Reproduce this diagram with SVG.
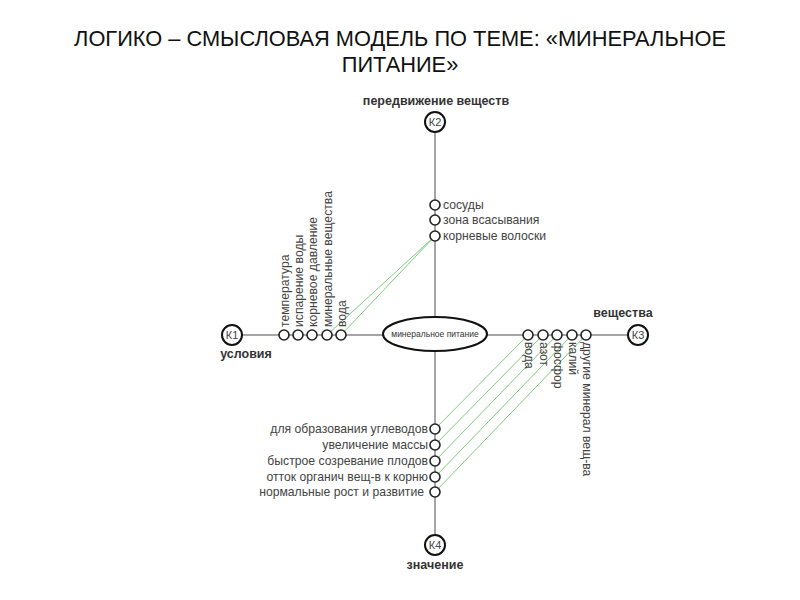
<svg xmlns="http://www.w3.org/2000/svg" width="800" height="600" viewBox="0 0 800 600">
<style>
.title{font-family:"Liberation Sans",Arial,sans-serif;font-size:21.8px;fill:#111;text-anchor:middle}
.lbl{font-family:"Liberation Sans",Arial,sans-serif;font-size:12.2px;fill:#444}
.bold{font-family:"Liberation Sans",Arial,sans-serif;font-size:12.5px;font-weight:bold;fill:#333;text-anchor:middle}
.k{fill:#fff;stroke:#111;stroke-width:2}
.ktxt{font-family:"Liberation Sans",Arial,sans-serif;font-size:11px;fill:#444;text-anchor:middle}
.dot{fill:#fff;stroke:#222;stroke-width:1.6}
.axis{stroke:#888;stroke-width:1.5;fill:none}
.green{stroke:#7dcc7d;stroke-width:1;fill:none}
</style>
<rect width="800" height="600" fill="#fff"/>
<text class="title" x="400" y="46">ЛОГИКО – СМЫСЛОВАЯ МОДЕЛЬ ПО ТЕМЕ: «МИНЕРАЛЬНОЕ</text>
<text class="title" x="400" y="72">ПИТАНИЕ»</text>
<g id="connectors">
<line class="axis" x1="232" y1="335" x2="638" y2="335"/>
<line class="axis" x1="435" y1="122" x2="435" y2="545"/>
<line class="green" x1="327" y1="335" x2="435" y2="236"/>
<line class="green" x1="341" y1="335" x2="435" y2="236"/>
<line class="green" x1="528" y1="335" x2="435" y2="429"/>
<line class="green" x1="543" y1="335" x2="435" y2="445"/>
<line class="green" x1="557" y1="335" x2="435" y2="461"/>
<line class="green" x1="572" y1="335" x2="435" y2="477"/>
<line class="green" x1="586" y1="335" x2="435" y2="492"/>
</g>
<g id="center">
<ellipse cx="435" cy="334" rx="52" ry="17" fill="#fff" stroke="#111" stroke-width="2"/>
<text x="435" y="337" font-family="Liberation Sans,Arial,sans-serif" font-size="8.5" fill="#333" text-anchor="middle">минеральное питание</text>
</g>
<g id="K1">
<circle class="k" cx="232" cy="335" r="10"/>
<text class="ktxt" x="232" y="339">К1</text>
<text class="bold" x="246" y="358">условия</text>
</g>
<g id="K2">
<circle class="k" cx="435" cy="122" r="10"/>
<text class="ktxt" x="435" y="126">К2</text>
<text class="bold" x="436" y="105">передвижение веществ</text>
</g>
<g id="K3">
<circle class="k" cx="638" cy="335" r="10"/>
<text class="ktxt" x="638" y="339">К3</text>
<text class="bold" x="623" y="317">вещества</text>
</g>
<g id="K4">
<circle class="k" cx="435" cy="545" r="10"/>
<text class="ktxt" x="435" y="549">К4</text>
<text class="bold" x="435" y="569">значение</text>
</g>
<g id="conditions">
<circle class="dot" cx="284" cy="335" r="5"/>
<circle class="dot" cx="298" cy="335" r="5"/>
<circle class="dot" cx="312" cy="335" r="5"/>
<circle class="dot" cx="327" cy="335" r="5"/>
<circle class="dot" cx="341" cy="335" r="5"/>
<text class="lbl" transform="translate(289,327) rotate(-90)">температура</text>
<text class="lbl" transform="translate(303,327) rotate(-90)">испарение воды</text>
<text class="lbl" transform="translate(317,327) rotate(-90)">корневое давление</text>
<text class="lbl" transform="translate(332,327) rotate(-90)">минеральные вещества</text>
<text class="lbl" transform="translate(346,327) rotate(-90)">вода</text>
</g>
<g id="movement">
<circle class="dot" cx="435" cy="205" r="5"/>
<circle class="dot" cx="435" cy="220" r="5"/>
<circle class="dot" cx="435" cy="236" r="5"/>
<text class="lbl" x="443" y="209">сосуды</text>
<text class="lbl" x="443" y="224">зона всасывания</text>
<text class="lbl" x="443" y="240">корневые волоски</text>
</g>
<g id="substances">
<circle class="dot" cx="528" cy="335" r="5"/>
<circle class="dot" cx="543" cy="335" r="5"/>
<circle class="dot" cx="557" cy="335" r="5"/>
<circle class="dot" cx="572" cy="335" r="5"/>
<circle class="dot" cx="586" cy="335" r="5"/>
<text class="lbl" transform="translate(525,342) rotate(90)">вода</text>
<text class="lbl" transform="translate(540,342) rotate(90)">азот</text>
<text class="lbl" transform="translate(554,342) rotate(90)">фосфор</text>
<text class="lbl" transform="translate(569,342) rotate(90)">калий</text>
<text class="lbl" transform="translate(583,342) rotate(90)">другие минерал вещ-ва</text>
</g>
<g id="meaning">
<circle class="dot" cx="435" cy="429" r="5"/>
<circle class="dot" cx="435" cy="445" r="5"/>
<circle class="dot" cx="435" cy="461" r="5"/>
<circle class="dot" cx="435" cy="477" r="5"/>
<circle class="dot" cx="435" cy="492" r="5"/>
<text class="lbl" x="428" y="433" text-anchor="end">для образования углеводов</text>
<text class="lbl" x="428" y="449" text-anchor="end">увеличение массы</text>
<text class="lbl" x="428" y="465" text-anchor="end">быстрое созревание плодов</text>
<text class="lbl" x="428" y="481" text-anchor="end">отток органич вещ-в к корню</text>
<text class="lbl" x="424" y="496" text-anchor="end">нормальные рост и развитие</text>
</g>
</svg>
